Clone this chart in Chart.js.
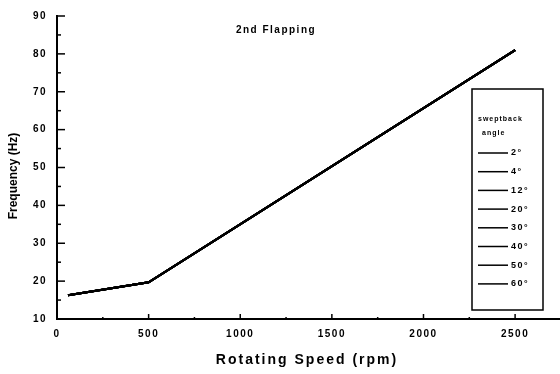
<!DOCTYPE html>
<html>
<head>
<meta charset="utf-8">
<script src="https://cdn.jsdelivr.net/npm/chart.js@4.4.0/dist/chart.umd.min.js"></script>
<style>
  html, body { margin: 0; padding: 0; background: #fff; }
  #wrap { width: 560px; height: 374px; }
</style>
</head>
<body>
<div id="wrap"><canvas id="c" width="560" height="374"></canvas></div>
<script>
// ---- data ----
const rpm = [60, 500, 2500];
const angleLabels = ['2°', '4°', '12°', '20°', '30°', '40°', '50°', '60°'];
const freq2 = [16.3, 19.7, 81.0];
const freq4 = [16.3, 19.7, 81.0];
const freq12 = [16.3, 19.7, 81.0];
const freq20 = [16.3, 19.7, 81.0];
const freq30 = [16.3, 19.7, 81.0];
const freq40 = [16.3, 19.7, 81.0];
const freq50 = [16.3, 19.7, 81.0];
const freq60 = [16.3, 19.7, 81.0];
const seriesValues = [freq2, freq4, freq12, freq20, freq30, freq40, freq50, freq60];
const xTickValues = [0, 500, 1000, 1500, 2000, 2500];
const yTickValues = [10, 20, 30, 40, 50, 60, 70, 80, 90];
const chartTitle = '2nd Flapping';
const xTitle = 'Rotating Speed (rpm)';
const yTitle = 'Frequency (Hz)';
const legendTitle = ['sweptback', 'angle'];

const datasets = seriesValues.map((vals, i) => ({
  label: angleLabels[i],
  data: rpm.map((x, j) => ({ x: x, y: vals[j] })),
  borderColor: '#000',
  borderWidth: 2,
  pointRadius: 0,
  fill: false,
  tension: 0
}));

const decorPlugin = {
  id: 'decor',
  beforeDraw(chart) {
    const ctx = chart.ctx;
    ctx.save();
    ctx.fillStyle = '#fff';
    ctx.fillRect(0, 0, chart.width, chart.height);
    ctx.restore();
    ctx.letterSpacing = '1.5px';
  },
  afterDraw(chart) {
    const ctx = chart.ctx;
    const xs = chart.scales.x, ys = chart.scales.y;
    const area = chart.chartArea;
    ctx.save();
    ctx.strokeStyle = '#000';
    // inward tick marks on y axis
    ctx.lineWidth = 1.5;
    for (let v = 10; v <= 90; v += 5) {
      const py = ys.getPixelForValue(v);
      const len = (v % 10 === 0) ? 8 : 4;
      ctx.beginPath();
      ctx.moveTo(area.left, py);
      ctx.lineTo(area.left + len, py);
      ctx.stroke();
    }
    // inward tick marks on x axis
    for (let v = 0; v <= 2500; v += 250) {
      const px = xs.getPixelForValue(v);
      const len = (v % 500 === 0) ? 5 : 2;
      ctx.beginPath();
      ctx.moveTo(px, area.bottom);
      ctx.lineTo(px, area.bottom - len);
      ctx.stroke();
    }
    ctx.fillStyle = '#000';
    // chart title
    ctx.letterSpacing = '1.5px';
    ctx.font = 'bold 10px "Liberation Sans", Arial, sans-serif';
    ctx.textAlign = 'center';
    ctx.textBaseline = 'middle';
    ctx.fillText(chartTitle, 276, 30);
    // x title
    ctx.letterSpacing = '2px';
    ctx.font = 'bold 14px "Liberation Sans", Arial, sans-serif';
    ctx.fillText(xTitle, 307, 360);
    // y title
    ctx.letterSpacing = '0px';
    ctx.save();
    ctx.translate(14, 176);
    ctx.rotate(-Math.PI / 2);
    ctx.font = 'bold 12px "Liberation Sans", Arial, sans-serif';
    ctx.fillText(yTitle, 0, 0);
    ctx.restore();
    // legend box
    const lx = 472, ly = 89, lw = 71, lh = 221;
    ctx.fillStyle = '#fff';
    ctx.fillRect(lx, ly, lw, lh);
    ctx.lineWidth = 1.5;
    ctx.strokeRect(lx, ly, lw, lh);
    ctx.fillStyle = '#000';
    ctx.textAlign = 'left';
    ctx.letterSpacing = '1px';
    ctx.font = 'bold 7px "Liberation Sans", Arial, sans-serif';
    ctx.fillText(legendTitle[0], 478, 119);
    ctx.fillText(legendTitle[1], 482, 133);
    ctx.font = 'bold 9px "Liberation Sans", Arial, sans-serif';
    ctx.letterSpacing = '1.5px';
    chart.data.datasets.forEach((ds, i) => {
      const y = 153 + i * 18.7;
      ctx.lineWidth = 1.5;
      ctx.beginPath();
      ctx.moveTo(478, y);
      ctx.lineTo(508, y);
      ctx.stroke();
      ctx.fillText(ds.label, 511, y);
    });
    ctx.restore();
  }
};

new Chart(document.getElementById('c'), {
  type: 'line',
  data: { datasets: datasets },
  options: {
    responsive: false,
    animation: false,
    layout: { padding: { top: 15, right: 0, left: 0, bottom: 0 } },
    plugins: { legend: { display: false }, title: { display: false }, tooltip: { enabled: false } },
    scales: {
      x: {
        type: 'linear',
        min: 0,
        max: 2745,
        afterFit(s) { s.height = 55; },
        afterBuildTicks(s) { s.ticks = xTickValues.map(v => ({ value: v })); },
        grid: { display: true, drawOnChartArea: false, drawTicks: false },
        border: { display: true, color: '#000', width: 2 },
        ticks: {
          color: '#000',
          padding: 9,
          maxRotation: 0,
          autoSkip: false,
          callback: (v) => String(v),
          font: { family: '"Liberation Sans", Arial, sans-serif', size: 10, weight: 'bold' }
        }
      },
      y: {
        type: 'linear',
        min: 10,
        max: 90,
        afterFit(s) { s.width = 57; },
        afterBuildTicks(s) { s.ticks = yTickValues.map(v => ({ value: v })); },
        grid: { display: true, drawOnChartArea: false, drawTicks: false },
        border: { display: true, color: '#000', width: 2 },
        ticks: {
          color: '#000',
          padding: 10,
          autoSkip: false,
          callback: (v) => String(v),
          font: { family: '"Liberation Sans", Arial, sans-serif', size: 10, weight: 'bold' }
        }
      }
    }
  },
  plugins: [decorPlugin]
});
</script>
</body>
</html>
